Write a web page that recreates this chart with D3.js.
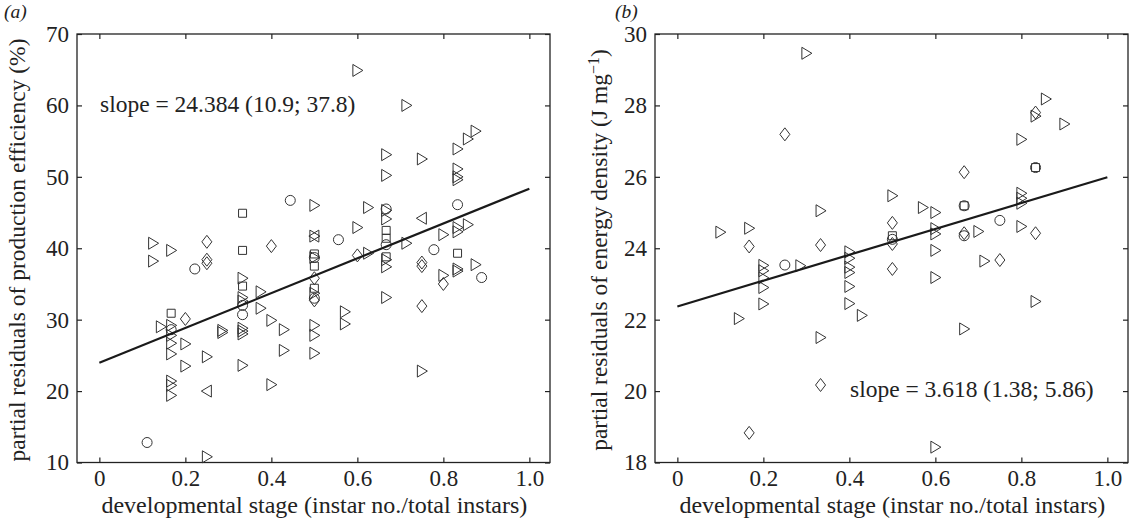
<!DOCTYPE html>
<html>
<head>
<meta charset="utf-8">
<script src="https://cdn.jsdelivr.net/npm/d3@7/dist/d3.min.js"></script>
<style>
  html, body { margin: 0; padding: 0; background: #fff; }
  svg text { font-family: "Liberation Serif", "DejaVu Serif", serif; fill: #222; }
</style>
</head>
<body>
<div id="chart"></div>
<script>
// panel (a): [stage, residual, marker]  tr = right triangle, tl = left triangle, d = diamond, c = circle, s = square
const pointsA = [
  [0.111, 12.8, "c"], [0.125, 40.7, "tr"], [0.125, 38.2, "tr"], [0.143, 29.0, "tr"],
  [0.167, 39.7, "tr"], [0.167, 30.9, "s"], [0.167, 29.2, "tr"], [0.167, 28.6, "c"],
  [0.167, 27.8, "tr"], [0.167, 26.7, "tr"], [0.167, 25.2, "tr"], [0.167, 21.4, "tr"],
  [0.167, 20.8, "tr"], [0.167, 19.4, "tr"], [0.2, 30.1, "d"], [0.2, 26.6, "tr"],
  [0.2, 23.5, "tr"], [0.222, 37.1, "c"], [0.25, 40.9, "d"], [0.25, 38.4, "d"],
  [0.25, 37.9, "d"], [0.25, 24.8, "tr"], [0.25, 20.0, "tl"], [0.25, 10.8, "tr"],
  [0.286, 28.5, "tr"], [0.286, 28.2, "tr"], [0.333, 44.9, "s"], [0.333, 39.7, "s"],
  [0.333, 35.8, "tr"], [0.333, 34.7, "s"], [0.333, 33.1, "tr"], [0.333, 32.6, "tr"],
  [0.333, 32.0, "c"], [0.333, 30.7, "c"], [0.333, 28.8, "tr"], [0.333, 28.4, "tr"],
  [0.333, 28.0, "tr"], [0.333, 23.6, "tr"], [0.375, 33.9, "tr"], [0.375, 31.6, "tr"],
  [0.4, 40.3, "d"], [0.4, 29.9, "tr"], [0.4, 20.9, "tr"], [0.429, 28.6, "tr"],
  [0.429, 25.7, "tr"], [0.444, 46.7, "c"], [0.5, 46.0, "tr"], [0.5, 41.7, "tr"],
  [0.5, 41.7, "tl"], [0.5, 39.2, "s"], [0.5, 38.7, "c"], [0.5, 38.7, "tr"],
  [0.5, 37.5, "s"], [0.5, 35.8, "d"], [0.5, 34.4, "s"], [0.5, 33.7, "tr"],
  [0.5, 33.0, "c"], [0.5, 32.7, "d"], [0.5, 29.2, "tr"], [0.5, 27.8, "tr"],
  [0.5, 25.3, "tr"], [0.556, 41.2, "c"], [0.571, 31.1, "tr"], [0.571, 29.4, "tr"],
  [0.6, 64.9, "tr"], [0.6, 42.9, "tr"], [0.6, 39.0, "d"], [0.625, 45.7, "tr"],
  [0.625, 39.3, "tr"], [0.667, 53.1, "tr"], [0.667, 50.2, "tr"], [0.667, 45.5, "c"],
  [0.667, 45.3, "tr"], [0.667, 44.1, "tr"], [0.667, 42.5, "s"], [0.667, 41.4, "s"],
  [0.667, 40.5, "c"], [0.667, 38.8, "s"], [0.667, 38.4, "tr"], [0.667, 37.4, "tr"],
  [0.667, 33.1, "tr"], [0.714, 60.0, "tr"], [0.714, 40.7, "tr"], [0.75, 52.5, "tr"],
  [0.75, 44.2, "tl"], [0.75, 38.0, "d"], [0.75, 37.5, "d"], [0.75, 31.9, "d"],
  [0.75, 22.8, "tr"], [0.778, 39.8, "c"], [0.8, 41.9, "tr"], [0.8, 36.2, "tr"],
  [0.8, 35.0, "d"], [0.833, 53.9, "tr"], [0.833, 51.1, "tr"], [0.833, 50.0, "tr"],
  [0.833, 49.6, "tr"], [0.833, 46.1, "c"], [0.833, 42.9, "tr"], [0.833, 42.3, "tr"],
  [0.833, 39.3, "s"], [0.833, 37.1, "tr"], [0.833, 36.8, "tr"], [0.857, 55.3, "tr"],
  [0.857, 43.3, "tr"], [0.875, 56.4, "tr"], [0.875, 37.7, "tr"], [0.889, 35.9, "c"]
];

// panel (b)
const pointsB = [
  [0.1, 24.45, "tr"], [0.143, 22.03, "tr"], [0.167, 24.56, "tr"], [0.167, 24.05, "d"],
  [0.167, 18.83, "d"], [0.2, 23.52, "tr"], [0.2, 23.37, "tr"], [0.2, 23.17, "tr"],
  [0.2, 22.9, "tr"], [0.2, 22.44, "tr"], [0.25, 27.19, "d"], [0.25, 23.53, "c"],
  [0.286, 23.51, "tr"], [0.3, 29.46, "tr"], [0.333, 25.05, "tr"], [0.333, 24.09, "d"],
  [0.333, 21.5, "tr"], [0.333, 20.17, "d"], [0.4, 23.9, "tr"], [0.4, 23.72, "tr"],
  [0.4, 23.47, "tr"], [0.4, 23.32, "tr"], [0.4, 22.93, "tr"], [0.4, 22.45, "tr"],
  [0.429, 22.12, "tr"], [0.5, 25.47, "tr"], [0.5, 24.71, "d"], [0.5, 24.35, "s"],
  [0.5, 24.25, "c"], [0.5, 24.12, "d"], [0.5, 23.42, "d"], [0.571, 25.14, "tr"],
  [0.6, 25.0, "tr"], [0.6, 24.55, "tr"], [0.6, 24.4, "tr"], [0.6, 23.94, "tr"],
  [0.6, 23.18, "tr"], [0.6, 18.43, "tr"], [0.667, 26.13, "d"], [0.667, 25.19, "s"],
  [0.667, 25.19, "c"], [0.667, 24.42, "d"], [0.667, 24.35, "c"], [0.667, 21.74, "tr"],
  [0.7, 24.47, "tr"], [0.714, 23.64, "tr"], [0.75, 24.78, "c"], [0.75, 23.67, "d"],
  [0.8, 27.05, "tr"], [0.8, 25.54, "tr"], [0.8, 25.4, "tr"], [0.8, 25.26, "tr"],
  [0.8, 24.61, "tr"], [0.833, 27.8, "d"], [0.833, 27.7, "tr"], [0.833, 26.26, "s"],
  [0.833, 26.26, "c"], [0.833, 24.42, "d"], [0.833, 22.51, "tr"], [0.857, 28.18, "tr"],
  [0.9, 27.48, "tr"]
];

const xTicks = [0, 0.2, 0.4, 0.6, 0.8, 1.0];
const xTickLabels = ["0", "0.2", "0.4", "0.6", "0.8", "1.0"];
const yTicksA = [10, 20, 30, 40, 50, 60, 70];
const yTicksB = [18, 20, 22, 24, 26, 28, 30];

// fitted lines: [intercept, slope]
const fitA = [23.96, 24.384];
const fitB = [22.37, 3.618];

const slopeTextA = "slope = 24.384 (10.9; 37.8)";
const slopeTextB = "slope = 3.618 (1.38; 5.86)";
const xLabel = "developmental stage (instar no./total instars)";

const W = 1129, H = 524;
const svg = d3.select("#chart").append("svg").attr("width", W).attr("height", H);

// marker glyphs around (0,0)
function glyph(kind) {
  if (kind === "tr") return "M-4.5,-6L5.5,0L-4.5,6Z";
  if (kind === "tl") return "M4.5,-6L-5.5,0L4.5,6Z";
  if (kind === "d") return "M0,-6.5L5,0L0,6.5L-5,0Z";
  if (kind === "s") return "M-4,-4H4V4H-4Z";
  return d3.symbol().type(d3.symbolCircle).size(Math.PI * 25)();
}

function panel(opts) {
  const x = d3.scaleLinear().domain([-0.052, 1.048]).range([opts.left, opts.right]);
  const y = d3.scaleLinear().domain(opts.yDomain).range([462.5, 34]);
  const g = svg.append("g");
  const tick = 5;

  // box with inward ticks on all four sides
  g.append("rect")
    .attr("x", opts.left).attr("y", 34)
    .attr("width", opts.right - opts.left).attr("height", 462.5 - 34)
    .attr("fill", "none").attr("stroke", "#222").attr("stroke-width", 1.3);

  g.append("g").attr("transform", `translate(0,462.5)`)
    .call(d3.axisBottom(x).tickValues(xTicks).tickSize(-tick).tickPadding(7)
      .tickFormat((d, i) => xTickLabels[i]))
    .call(a => a.select(".domain").remove());
  g.append("g").attr("transform", `translate(0,34)`)
    .call(d3.axisTop(x).tickValues(xTicks).tickSize(-tick).tickFormat(""))
    .call(a => a.select(".domain").remove());
  g.append("g").attr("transform", `translate(${opts.left},0)`)
    .call(d3.axisLeft(y).tickValues(opts.yTicks).tickSize(-tick).tickPadding(8))
    .call(a => a.select(".domain").remove());
  g.append("g").attr("transform", `translate(${opts.right},0)`)
    .call(d3.axisRight(y).tickValues(opts.yTicks).tickSize(-tick).tickFormat(""))
    .call(a => a.select(".domain").remove());

  g.selectAll(".tick line").attr("stroke", "#222").attr("stroke-width", 1.2);
  g.selectAll(".tick text")
    .style("font-family", '"Liberation Serif", serif')
    .style("font-size", "23px").attr("fill", "#222");

  // points
  g.append("g").selectAll("path.pt")
    .data(opts.points)
    .join("path")
    .attr("class", "pt")
    .attr("d", d => glyph(d[2]))
    .attr("transform", d => `translate(${x(d[0])},${y(d[1])})`)
    .attr("fill", "none")
    .attr("stroke", "#333")
    .attr("stroke-width", 1);

  // fitted line over 0..1
  const line = d3.line().x(d => x(d)).y(d => y(opts.fit[0] + opts.fit[1] * d));
  g.append("path")
    .attr("d", line([0, 1]))
    .attr("fill", "none").attr("stroke", "#1a1a1a").attr("stroke-width", 2.2);

  // annotations
  g.append("text").attr("x", opts.slopeX).attr("y", opts.slopeY)
    .style("font-size", "23.5px").text(opts.slopeText);

  g.append("text")
    .attr("x", x(0.5)).attr("y", 513)
    .attr("text-anchor", "middle").style("font-size", "24px")
    .text(xLabel);

  g.append("text")
    .attr("transform", `translate(${opts.yLabelX},${250}) rotate(-90)`)
    .attr("text-anchor", "middle").style("font-size", "23.5px")
    .call(opts.yLabel);

  g.append("text").attr("x", opts.tagX).attr("y", 17.5)
    .style("font-size", "19.5px").style("font-style", "italic")
    .text(opts.tag);
}

panel({
  left: 77, right: 550, yDomain: [10, 70], yTicks: yTicksA,
  points: pointsA, fit: fitA,
  slopeText: slopeTextA, slopeX: 100, slopeY: 112,
  yLabelX: 25, tag: "(a)", tagX: 4,
  yLabel: t => t.text("partial residuals of production efficiency (%)")
});

panel({
  left: 655, right: 1128, yDomain: [18, 30], yTicks: yTicksB,
  points: pointsB, fit: fitB,
  slopeText: slopeTextB, slopeX: 850, slopeY: 397,
  yLabelX: 607, tag: "(b)", tagX: 615,
  yLabel: t => {
    t.append("tspan").text("partial residuals of energy density (J mg");
    t.append("tspan").attr("dy", -8).style("font-size", "16px").text("\u22121");
    t.append("tspan").attr("dy", 8).text(")");
  }
});
</script>
</body>
</html>
